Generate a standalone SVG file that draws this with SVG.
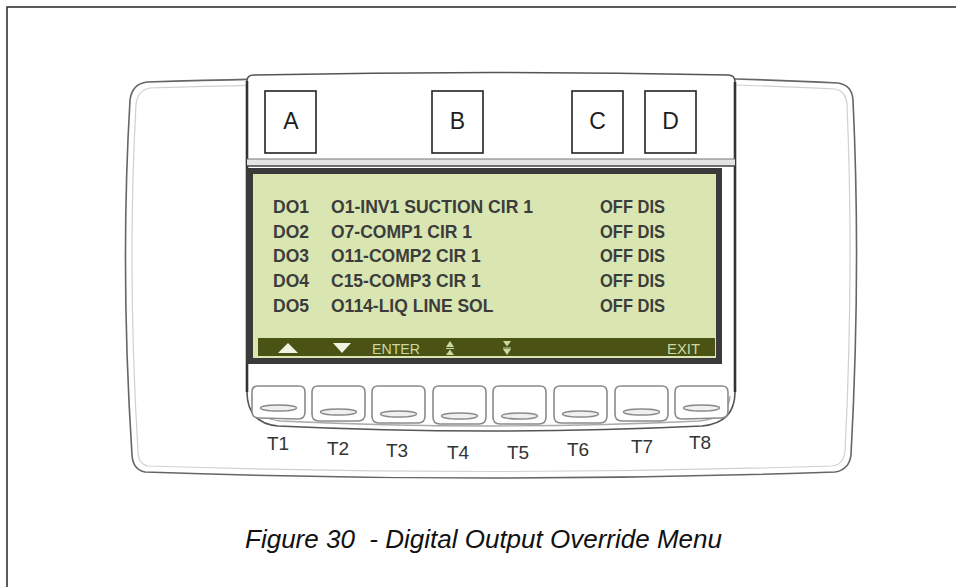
<svg xmlns="http://www.w3.org/2000/svg" width="956" height="587" viewBox="0 0 956 587">
<style>
.lbl{font-family:"Liberation Sans","Open Sans",sans-serif;font-size:23px;fill:#1e1e1e;text-anchor:middle}
.lcd{font-family:"Liberation Sans","DejaVu Sans",sans-serif;font-size:17.5px;font-weight:bold;fill:#3c3c3c}
.bar{font-family:"Liberation Sans","DejaVu Sans",sans-serif;font-size:15px;fill:#c9d9a2}
.tk{font-family:"Liberation Sans","DejaVu Sans",sans-serif;font-size:19px;fill:#333;text-anchor:middle}
.box{fill:#fff;stroke:#222;stroke-width:1.6}
.key{fill:#fff;stroke:#8a8a8a;stroke-width:1.6}
.slot{fill:#f0f0f0;stroke:#8a8a8a;stroke-width:1.4}
.cap{font-family:"Liberation Sans","Open Sans",sans-serif;font-size:25px;font-style:italic;fill:#111}
</style>
<rect x="0" y="0" width="956" height="587" fill="#fff"/>
<rect x="7" y="7" width="960" height="600" fill="none" stroke="#333" stroke-width="1.6"/>

<g id="body">
  <path d="M147,82 Q350,76 490,76 Q700,76 838,83 Q852,85 853,100 Q861,270 851,455 Q849,470 835,472 Q490,484 145,472 Q133,470 132,455 Q120,270 130,100 Q132,84 147,82 Z" fill="#fff" stroke="#666" stroke-width="1.6"/>
  <path d="M150,88 Q350,82 490,82 Q700,82 835,89 Q846,91 847,104 Q854,270 845,452 Q843,465 832,466 Q490,477 148,466 Q139,465 138,452 Q127,270 136,104 Q138,90 150,88 Z" fill="none" stroke="#d0d0d0" stroke-width="1.2"/>
</g>

<g id="bezel">
  <path d="M247,81 Q247,75 254,75 Q490,70 728,75 Q735,75 735,82 L735,392 Q735,423 702,426 Q490,436 278,426 Q247,423 247,392 Z" fill="#fff" stroke="#555" stroke-width="1.6"/>
  <path d="M252,396 Q253,418 280,421 Q490,431 700,421 Q729,418 730,396" fill="none" stroke="#aaa" stroke-width="1.3"/>
  <line x1="247" y1="81" x2="247" y2="392" stroke="#333" stroke-width="2.6"/>
  <line x1="735" y1="82" x2="735" y2="392" stroke="#333" stroke-width="2.6"/>
  <rect x="247" y="159" width="488" height="7" fill="#e4e4e4"/>
  <line x1="247" y1="159" x2="735" y2="159" stroke="#777" stroke-width="1.2"/>
  <line x1="247" y1="166" x2="735" y2="166" stroke="#444" stroke-width="1.6"/>
</g>

<g id="label-A"><rect class="box" x="265" y="91" width="51" height="62"/><text class="lbl" x="291" y="129">A</text></g>
<g id="label-B"><rect class="box" x="432" y="91" width="51" height="62"/><text class="lbl" x="457.5" y="129">B</text></g>
<g id="label-C"><rect class="box" x="572" y="91" width="51" height="62"/><text class="lbl" x="597.5" y="129">C</text></g>
<g id="label-D"><rect class="box" x="645" y="91" width="51" height="62"/><text class="lbl" x="670.5" y="129">D</text></g>

<g id="screen">
  <rect x="246" y="168" width="476" height="196" fill="#3a3a3a"/>
  <rect x="253" y="174" width="463" height="184" fill="#d9e6b1"/>
  <rect x="258" y="338" width="457" height="18" fill="#4a5214"/>
  <text class="lcd" x="273" y="213">DO1</text>
  <text class="lcd" x="331" y="213" textLength="202" lengthAdjust="spacingAndGlyphs">O1-INV1 SUCTION CIR 1</text>
  <text class="lcd" x="600" y="213" textLength="65" lengthAdjust="spacingAndGlyphs">OFF DIS</text>
  <text class="lcd" x="273" y="237.5">DO2</text>
  <text class="lcd" x="331" y="237.5">O7-COMP1 CIR 1</text>
  <text class="lcd" x="600" y="237.5" textLength="65" lengthAdjust="spacingAndGlyphs">OFF DIS</text>
  <text class="lcd" x="273" y="262">DO3</text>
  <text class="lcd" x="331" y="262">O11-COMP2 CIR 1</text>
  <text class="lcd" x="600" y="262" textLength="65" lengthAdjust="spacingAndGlyphs">OFF DIS</text>
  <text class="lcd" x="273" y="287">DO4</text>
  <text class="lcd" x="331" y="287">C15-COMP3 CIR 1</text>
  <text class="lcd" x="600" y="287" textLength="65" lengthAdjust="spacingAndGlyphs">OFF DIS</text>
  <text class="lcd" x="273" y="312">DO5</text>
  <text class="lcd" x="331" y="312">O114-LIQ LINE SOL</text>
  <text class="lcd" x="600" y="312" textLength="65" lengthAdjust="spacingAndGlyphs">OFF DIS</text>
  <polygon points="278,353 298,353 288,343" fill="#eef3e2"/>
  <polygon points="333,343 351,343 342,353" fill="#eef3e2"/>
  <text class="bar" x="372" y="354" textLength="48" lengthAdjust="spacingAndGlyphs">ENTER</text>
  <polygon points="446,347 454,347 450,341" fill="#c9d9a2"/>
  <line x1="446" y1="348.5" x2="454" y2="348.5" stroke="#c9d9a2" stroke-width="1"/>
  <polygon points="446,355 454,355 450,349.5" fill="#c9d9a2"/>
  <polygon points="503,341 511,341 507,346.5" fill="#c9d9a2"/>
  <line x1="503" y1="348" x2="511" y2="348" stroke="#c9d9a2" stroke-width="1"/>
  <polygon points="503,349 511,349 507,355" fill="#c9d9a2"/>
  <text class="bar" x="667" y="354" textLength="33" lengthAdjust="spacingAndGlyphs">EXIT</text>
</g>

<g id="keys">
  <g id="key-T1"><path class="key" d="M252,392 Q252,386 258,386 L299,386 Q305,386 305,392 L305,412 Q305,419 298,419 L259,418 Q252,418 252,411 Z"/><ellipse class="slot" cx="278.5" cy="408" rx="18" ry="3"/><text class="tk" x="278" y="450">T1</text></g>
  <g id="key-T2"><path class="key" d="M312,392 Q312,386 318,386 L359,386 Q365,386 365,392 L365,414 Q365,421 358,421 L319,421 Q312,421 312,414 Z"/><ellipse class="slot" cx="338.5" cy="412" rx="18" ry="3"/><text class="tk" x="338" y="455">T2</text></g>
  <g id="key-T3"><path class="key" d="M372,392 Q372,386 378,386 L419,386 Q425,386 425,392 L425,416 Q425,423 418,423 L379,423 Q372,423 372,416 Z"/><ellipse class="slot" cx="398.5" cy="414" rx="18" ry="3"/><text class="tk" x="397" y="457">T3</text></g>
  <g id="key-T4"><path class="key" d="M433,392 Q433,386 439,386 L480,386 Q486,386 486,392 L486,417 Q486,424 479,424 L440,424 Q433,424 433,417 Z"/><ellipse class="slot" cx="459.5" cy="416" rx="18" ry="3"/><text class="tk" x="458" y="459">T4</text></g>
  <g id="key-T5"><path class="key" d="M493,392 Q493,386 499,386 L540,386 Q546,386 546,392 L546,417 Q546,424 539,424 L500,424 Q493,424 493,417 Z"/><ellipse class="slot" cx="519.5" cy="416" rx="18" ry="3"/><text class="tk" x="518" y="459">T5</text></g>
  <g id="key-T6"><path class="key" d="M554,392 Q554,386 560,386 L601,386 Q607,386 607,392 L607,416 Q607,423 600,423 L561,423 Q554,423 554,416 Z"/><ellipse class="slot" cx="580.5" cy="414" rx="18" ry="3"/><text class="tk" x="578" y="456">T6</text></g>
  <g id="key-T7"><path class="key" d="M615,392 Q615,386 621,386 L662,386 Q668,386 668,392 L668,414 Q668,421 661,421 L622,421 Q615,421 615,414 Z"/><ellipse class="slot" cx="641.5" cy="412" rx="18" ry="3"/><text class="tk" x="642" y="453">T7</text></g>
  <g id="key-T8"><path class="key" d="M675,392 Q675,386 681,386 L722,386 Q728,386 728,392 L728,411 Q728,418 721,418 L682,419 Q675,419 675,412 Z"/><ellipse class="slot" cx="701.5" cy="408" rx="18" ry="3"/><text class="tk" x="700" y="449">T8</text></g>
</g>

<g id="caption">
  <text class="cap" x="245" y="548" textLength="477" lengthAdjust="spacingAndGlyphs" xml:space="preserve">Figure 30  - Digital Output Override Menu</text>
</g>
</svg>
